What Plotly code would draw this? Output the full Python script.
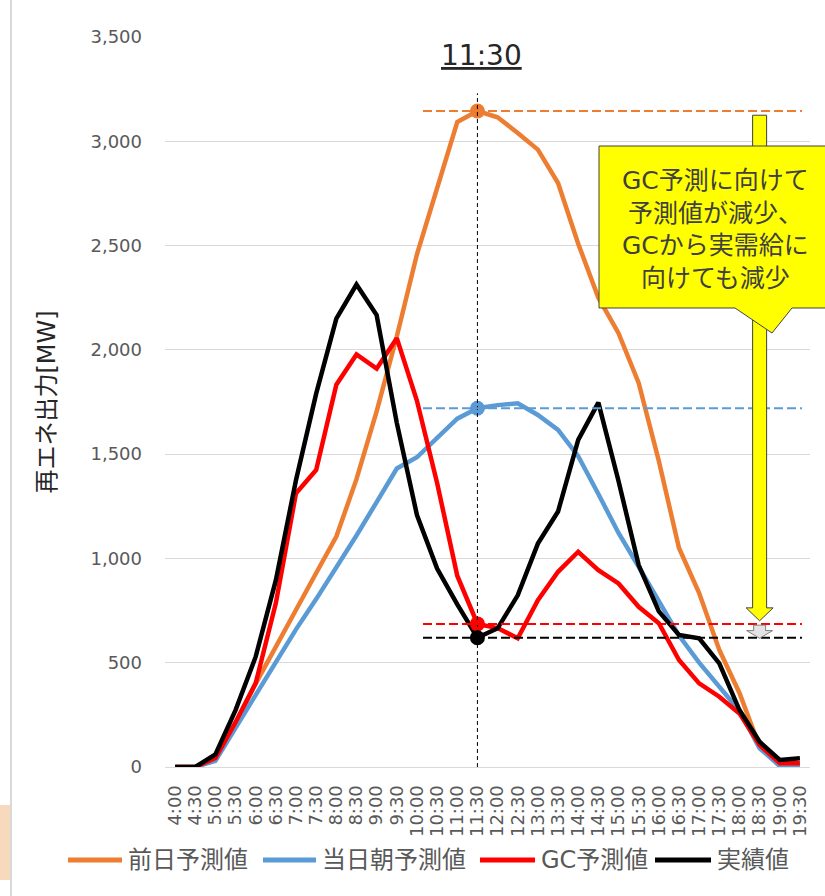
import plotly.graph_objects as go

# ---- data ----
times = ["4:00", "4:30", "5:00", "5:30", "6:00", "6:30", "7:00", "7:30",
         "8:00", "8:30", "9:00", "9:30", "10:00", "10:30", "11:00", "11:30",
         "12:00", "12:30", "13:00", "13:30", "14:00", "14:30", "15:00", "15:30",
         "16:00", "16:30", "17:00", "17:30", "18:00", "18:30", "19:00", "19:30"]

day_ahead = [0, 0, 40, 211, 400, 580, 755, 930,
             1105, 1380, 1705, 2064, 2458, 2783, 3092, 3145,
             3115, 3040, 2960, 2800, 2509, 2250, 2080, 1841,
             1467, 1050, 834, 561, 355, 97, 5, 5]

morning = [0, 0, 30, 190, 350, 505, 660, 805,
           955, 1110, 1270, 1431, 1485, 1580, 1670, 1720,
           1735, 1744, 1688, 1616, 1490, 1309, 1122, 960,
           790, 630, 500, 385, 270, 90, 5, 5]

gc_forecast = [0, 0, 43, 215, 402, 786, 1313, 1424,
               1833, 1978, 1910, 2056, 1756, 1362, 917, 686,
               666, 617, 800, 936, 1032, 944, 880, 768,
               689, 513, 401, 337, 257, 105, 18, 18]

actual = [0, 0, 60, 273, 529, 896, 1376, 1790,
          2150, 2313, 2167, 1650, 1208, 951, 780, 620,
          665, 823, 1071, 1225, 1568, 1747, 1371, 968,
          746, 633, 617, 497, 273, 121, 34, 42]

series_names = ["前日予測値", "当日朝予測値", "GC予測値", "実績値"]
series_colors = ["#ED7D31", "#5B9BD5", "#FF0000", "#000000"]
y_ticks = [0, 500, 1000, 1500, 2000, 2500, 3000, 3500]

focus_time = "11:30"
arrow_time = "18:30"
callout_lines = ["GC予測に向けて", "予測値が減少、", "GCから実需給に", "向けても減少"]
y_title = "再エネ出力[MW]"

k = times.index(focus_time)
a = times.index(arrow_time)
series = [day_ahead, morning, gc_forecast, actual]

LATIN = "DejaVu Sans, Noto Sans CJK JP, sans-serif"
fig = go.Figure()

for name, vals, col in zip(series_names, series, series_colors):
    fig.add_trace(go.Scatter(x=times, y=vals, mode="lines", name=name,
                             line=dict(color=col, width=4.5),
                             showlegend=False, hoverinfo="skip"))

for vals, col in zip(series, series_colors):
    fig.add_trace(go.Scatter(x=[times[k]], y=[vals[k]], mode="markers",
                             marker=dict(size=15, color=col),
                             showlegend=False, hoverinfo="skip"))


def px(xp):
    return (xp - 165) / 645


def py(yp):
    return (767 - yp) / 730


shapes = []
# vertical dashed line at focus time
shapes.append(dict(type="line", xref="x", yref="y", x0=k, x1=k, y0=0,
                   y1=day_ahead[k] + 85,
                   line=dict(color="#000000", width=1, dash="4px,3px")))
# horizontal dashed level lines
for vals, col in zip(series, series_colors):
    shapes.append(dict(type="line", xref="x", yref="y", x0=k - 2.7, x1=len(times) - 0.9,
                       y0=vals[k], y1=vals[k],
                       line=dict(color=col, width=2, dash="9px,4px")))

# yellow block arrow (from day-ahead level down to GC level)
top = day_ahead[k] - 20
tip = gc_forecast[k] + 15
sb = tip + 62
yellow_path = (f"M -7,{top} L 7,{top} L 7,{sb} L 13.5,{sb} L 0,{tip} "
               f"L -13.5,{sb} L -7,{sb} Z")
shapes.append(dict(type="path", xref="x", yref="y", xsizemode="pixel", xanchor=a,
                   path=yellow_path, fillcolor="#FFFF00",
                   line=dict(color="#404040", width=1)))
# small gray arrow (from GC level down to actual level)
gt = gc_forecast[k] - 6
gsb = actual[k] + 34
gtip = actual[k] - 3
gray_path = (f"M -6,{gt} L 6,{gt} L 6,{gsb} L 13,{gsb} L 0,{gtip} "
             f"L -13,{gsb} L -6,{gsb} Z")
shapes.append(dict(type="path", xref="x", yref="y", xsizemode="pixel", xanchor=a,
                   path=gray_path, fillcolor="#E3E3E3",
                   line=dict(color="#7F7F7F", width=1)))

# callout box (paper coordinates)
pts = [(599, 146), (832, 146), (832, 308), (792, 308), (772, 333), (735, 308), (599, 308)]
box_path = "M " + " L ".join(f"{px(x):.5f},{py(y):.5f}" for x, y in pts) + " Z"
shapes.append(dict(type="path", xref="paper", yref="paper", path=box_path,
                   fillcolor="#FFFF00", line=dict(color="#404040", width=1)))

# slide border on the far left
shapes.append(dict(type="line", xref="paper", yref="paper", x0=px(11), x1=px(11),
                   y0=py(0), y1=py(896), line=dict(color="#D9D9D9", width=2)))
shapes.append(dict(type="rect", xref="paper", yref="paper", x0=px(0), x1=px(10),
                   y0=py(805), y1=py(880), fillcolor="rgba(238,170,110,0.45)",
                   line=dict(width=0)))

annotations = [
    dict(xref="x", yref="paper", x=k, y=py(56), xshift=4, text=f"<u>{focus_time}</u>",
         xanchor="center", yanchor="middle",
         showarrow=False, font=dict(family=LATIN, size=28, color="#262626")),
    dict(xref="paper", yref="paper", x=px(715), y=py(230), text="<br>".join(callout_lines),
         xanchor="center", yanchor="middle",
         showarrow=False, align="center",
         font=dict(family=LATIN, size=25, color="#404040")),
]

# legend (drawn below the plot: sample line + label per series)
legend_line_px = [(68, 122), (263, 316), (480, 535), (655, 711)]
legend_y = py(860)
for (x0, x1), name, col in zip(legend_line_px, series_names, series_colors):
    shapes.append(dict(type="line", xref="paper", yref="paper",
                       x0=px(x0), x1=px(x1), y0=legend_y, y1=legend_y,
                       line=dict(color=col, width=5)))
    annotations.append(dict(xref="paper", yref="paper", x=px(x1 + 4), y=legend_y,
                            xanchor="left", yanchor="middle", showarrow=False,
                            text=name,
                            font=dict(family=LATIN, size=24, color="#595959")))

fig.update_layout(
    width=825, height=896,
    margin=dict(l=165, r=15, t=37, b=129),
    paper_bgcolor="white", plot_bgcolor="white",
    shapes=shapes, annotations=annotations,
    showlegend=False,
    xaxis=dict(type="category", categoryorder="array", categoryarray=times,
               tickmode="array", tickvals=times, ticktext=times,
               range=[-0.5, len(times) - 0.5], showgrid=False,
               showline=True, linecolor="#D9D9D9", linewidth=1,
               ticks="", tickangle=-90, ticklabelstandoff=10,
               tickfont=dict(family=LATIN, size=18, color="#595959"),
               automargin=False),
    yaxis=dict(range=[0, 3500], tickvals=y_ticks, tickformat=",",
               showgrid=True, gridcolor="#D9D9D9", gridwidth=1,
               zeroline=False, showline=False, ticks="",
               ticklabelstandoff=22,
               tickfont=dict(family=LATIN, size=18, color="#595959"),
               title=dict(text=y_title, standoff=28,
                          font=dict(family=LATIN, size=24, color="#262626")),
               automargin=False),
)

fig.write_html("out.html", config={"displayModeBar": False},
               post_script="document.body.style.margin='0';")
